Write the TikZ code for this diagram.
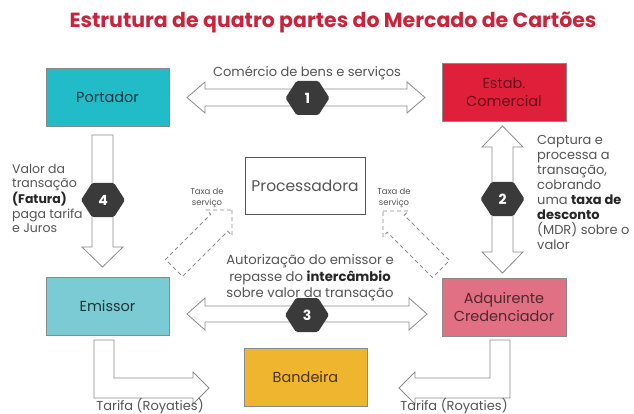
\documentclass[tikz,border=0pt]{standalone}
\usepackage{fontspec}
\setmainfont{Poppins}
\usetikzlibrary{calc}
\definecolor{titlered}{HTML}{C8243C}
\definecolor{portc}{HTML}{22BCC8}
\definecolor{estc}{HTML}{E0203A}
\definecolor{emic}{HTML}{7BCBD5}
\definecolor{adqc}{HTML}{E27084}
\definecolor{banc}{HTML}{F0B52E}
\definecolor{hexc}{HTML}{3A3A3A}
\definecolor{linec}{HTML}{8C8C8C}
\definecolor{txtc}{HTML}{555555}
\definecolor{boxline}{HTML}{8A8A8A}
\tikzset{
  party/.style={draw=boxline, line width=0.8pt, minimum width=123pt, minimum height=58pt, inner sep=0pt, align=center, font=\fontsize{14.5}{18}\selectfont},
  blockarrow/.style={draw=linec, line width=0.8pt, fill=white, line join=miter},
  dasharrow/.style={draw=linec, line width=0.8pt, dashed, dash pattern=on 4pt off 3pt},
  hexlabel/.style={text=white, font=\fontsize{14}{14}\selectfont\bfseries, inner sep=0pt},
  note/.style={text=txtc, inner sep=0pt},
}
\newcommand{\hexat}[2]{%
  \fill[hexc, rounded corners=1.5pt] ($(#1)+(-22,0)$) -- ($(#1)+(-11,-17)$) -- ($(#1)+(11,-17)$) -- ($(#1)+(22,0)$) -- ($(#1)+(11,17)$) -- ($(#1)+(-11,17)$) -- cycle;
  \node[hexlabel] at (#1) {#2};}
\begin{document}
\begin{tikzpicture}[x=1pt,y=-1pt]
\useasboundingbox (0,0) rectangle (634,414);
\fill[white] (0,0) rectangle (634,414);

% title
\node[text=titlered, font=\fontsize{20.5}{24}\selectfont\bfseries] (title) at (333,22) {Estrutura de quatro partes do Mercado de Cartões};

% parties
\node[party, fill=portc, text=portc!30!black] (port) at (107.5,97) {Portador};
\node[party, fill=estc, text=estc!45!black, minimum width=124pt] (est) at (504,92) {Estab.\\Comercial};
\node[party, fill=emic, text=emic!25!black] (emi) at (107.5,306.5) {Emissor};
\node[party, fill=adqc, text=adqc!35!black, minimum width=124pt] (adq) at (504,307) {Adquirente\\Credenciador};
\node[party, fill=banc, text=banc!30!black] (band) at (305.5,377) {Bandeira};
\node[party, fill=white, draw=txtc, text=txtc, minimum width=120pt, minimum height=57pt, font=\fontsize{15.5}{18}\selectfont] (proc) at (305,185.5) {Processadora};

% arrow 1 (double, horizontal)
\draw[blockarrow] (187,97.5) -- (205,82) -- (205,89) -- (407,89) -- (407,82) -- (425,97.5) -- (407,113) -- (407,106) -- (205,106) -- (205,113) -- cycle;
% arrow 3 (double, horizontal)
\draw[blockarrow] (187,314) -- (205,298) -- (205,306) -- (409,306) -- (409,298) -- (427,314) -- (409,330) -- (409,322) -- (205,322) -- (205,330) -- cycle;
% arrow 2 (double, vertical)
\draw[blockarrow] (502.5,126) -- (523,147) -- (513,147) -- (513,252) -- (523,252) -- (502.5,273) -- (482,252) -- (492,252) -- (492,147) -- (482,147) -- cycle;
% arrow 4 (single, down)
\draw[blockarrow] (92,135) -- (113,135) -- (113,247) -- (123,247) -- (102.5,267) -- (82,247) -- (92,247) -- cycle;
% L arrows to Bandeira
\draw[blockarrow] (94,340) -- (114,340) -- (114,378) -- (193,378) -- (193,372) -- (209,388) -- (193,404) -- (193,398) -- (94,398) -- cycle;
\draw[blockarrow] (510,340) -- (510,398) -- (415,398) -- (415,404) -- (399,388) -- (415,372) -- (415,378) -- (490,378) -- (490,340) -- cycle;

% dashed arrows to Processadora
\begin{scope}[shift={(232,210)}, rotate=45]
\draw[dasharrow] (0,0) -- (-18,18) -- (-18,12) -- (-82,12) -- (-82,-12) -- (-18,-12) -- (-18,-18) -- cycle;
\end{scope}
\begin{scope}[shift={(383,211)}, rotate=135]
\draw[dasharrow] (0,0) -- (-18,18) -- (-18,12) -- (-82,12) -- (-82,-12) -- (-18,-12) -- (-18,-18) -- cycle;
\end{scope}

% hexagons
\hexat{307.5,98}{1}
\hexat{502.5,199}{2}
\hexat{307,315}{3}
\hexat{103,200}{4}

% labels
\node[note, font=\fontsize{13}{15}\selectfont] (l1) at (307,73) {Comércio de bens e serviços};
\node[note, align=center, font=\fontsize{13.2}{16.5}\selectfont] (l3) at (310,278) {Autorização do emissor e\\repasse do \textbf{\color{black!85}intercâmbio}\\sobre valor da transação};
\node[note, align=left, anchor=north west, font=\fontsize{12.5}{14.5}\selectfont] (l4) at (12,164) {Valor da\\transação\\\textbf{\color{black!85}(Fatura)}\\paga tarifa\\e Juros};
\node[note, align=left, anchor=north west, font=\fontsize{13}{15}\selectfont] (l2) at (537,135) {Captura e\\processa a\\transação,\\cobrando\\uma \textbf{\color{black!85}taxa de}\\\textbf{\color{black!85}desconto}\\(MDR) sobre o\\valor};
\node[note, align=center, font=\fontsize{8.5}{10.5}\selectfont] (ts1) at (207,198) {Taxa de\\serviço};
\node[note, align=center, font=\fontsize{8.5}{10.5}\selectfont] (ts2) at (394,198) {Taxa de\\serviço};
\node[note, font=\fontsize{13}{15}\selectfont] (tr1) at (150,406) {Tarifa (Royaties)};
\node[note, font=\fontsize{13}{15}\selectfont] (tr2) at (454,406) {Tarifa (Royaties)};
\end{tikzpicture}
\end{document}
